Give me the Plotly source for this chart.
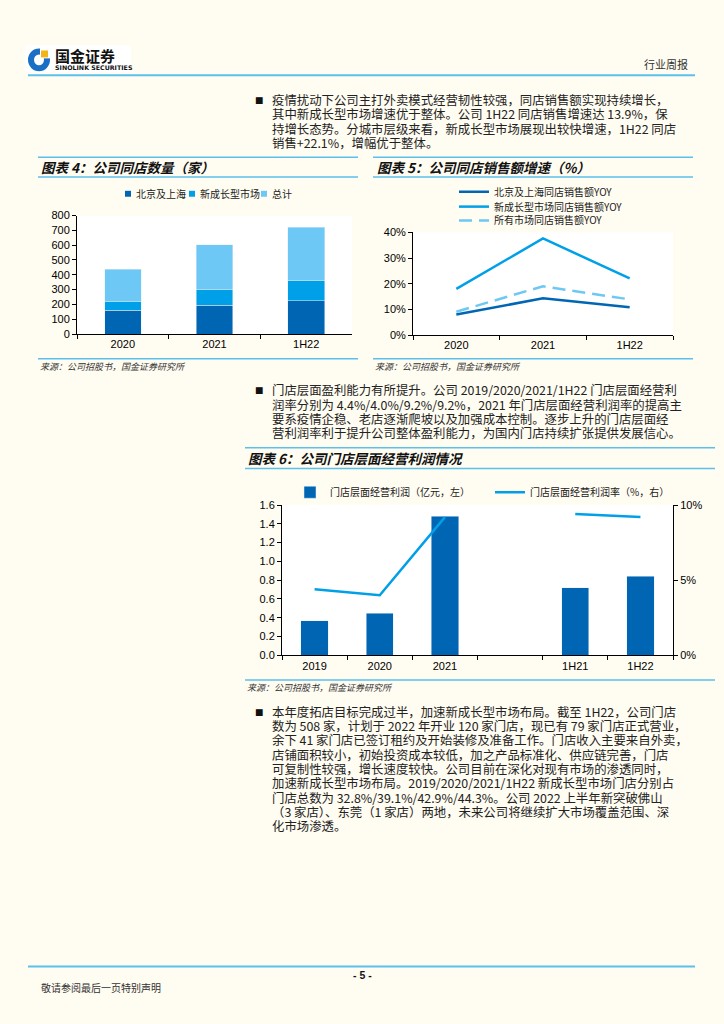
import plotly.graph_objects as go

W, H = 724, 1024
def px(x): return x / W
def py(y): return 1 - y / H

# ---------------- data ----------------
# Chart 4: 公司同店数量（家）
c4_cats = ["2020", "2021", "1H22"]
c4_bjsh = [160, 195, 225]
c4_new = [58, 107, 135]
c4_total = [218, 302, 360]
c4_names = ["北京及上海", "新成长型市场", "总计"]

# Chart 5: 公司同店销售额增速（%）
c5_cats = ["2020", "2021", "1H22"]
c5_bjsh = [8.0, 14.3, 10.8]
c5_new = [18.0, 37.6, 22.1]
c5_all = [9.1, 19.0, 13.9]
c5_names = ["北京及上海同店销售额YOY", "新成长型市场同店销售额YOY", "所有市场同店销售额YOY"]

# Chart 6: 公司门店层面经营利润情况
c6_cats = ["2019", "2020", "2021", " ", "1H21", "1H22"]
c6_profit = [0.37, 0.45, 1.48, None, 0.72, 0.84]
c6_margin = [4.4, 4.0, 9.2, None, 9.4, 9.2]
c6_names = ["门店层面经营利润（亿元，左）", "门店层面经营利润率（%，右）"]

DARK = "#0066B3"
MID = "#00A0E9"
LIGHT = "#6DC8F5"
RULE = "#5BC0EB"
BG = "#FFFCF1"
CJK = "Noto Sans CJK SC"
LAT = "Liberation Sans"
c4_colors = [DARK, MID, LIGHT]

fig = go.Figure()

# Chart 4 stacked bars
for vals, col, nm in zip([c4_bjsh, c4_new, c4_total], c4_colors, c4_names):
    fig.add_trace(go.Bar(x=c4_cats, y=vals, name=nm, marker_color=col, width=0.4,
                         xaxis="x", yaxis="y", showlegend=False))

# Chart 5 lines
for vals, col, nm, lg, dash in zip([c5_bjsh, c5_new, c5_all], [DARK, MID, LIGHT], c5_names,
                                   ["legend4", "legend5", "legend6"],
                                   ["solid", "solid", "13px,7px"]):
    fig.add_trace(go.Scatter(x=c5_cats, y=vals, name=nm, mode="lines",
                             line=dict(color=col, width=2.5, dash=dash),
                             xaxis="x2", yaxis="y2", legend=lg))

# Chart 6 bars + line
fig.add_trace(go.Bar(x=c6_cats, y=c6_profit, name=c6_names[0], marker_color=DARK, width=0.42,
                     xaxis="x3", yaxis="y3", legend="legend7"))
fig.add_trace(go.Scatter(x=c6_cats, y=c6_margin, name=c6_names[1], mode="lines",
                         line=dict(color=MID, width=2.5), connectgaps=False,
                         xaxis="x3", yaxis="y4", legend="legend8"))

tick_font = dict(family=LAT, size=11, color="#000")
axis_common = dict(showline=True, linecolor="#000", linewidth=1, ticks="outside", ticklen=4,
                   tickcolor="#000", showgrid=False, zeroline=False, tickfont=tick_font)

def leg(x, y, size=10, xanchor="left"):
    return dict(x=px(x), y=py(y), xanchor=xanchor, yanchor="middle", bgcolor="rgba(0,0,0,0)",
                font=dict(family=CJK, size=size, color="#222"), itemwidth=30,
                orientation="h", borderwidth=0)

fig.update_layout(
    width=W, height=H, margin=dict(l=0, r=0, t=0, b=0),
    paper_bgcolor=BG, plot_bgcolor="#FFFFFF", barmode="stack",
    xaxis=dict(domain=[px(77), px(352)], anchor="y", tickson="boundaries", **axis_common),
    yaxis=dict(domain=[py(332), py(212)], anchor="x", range=[0, 800], dtick=100, **axis_common),
    xaxis2=dict(domain=[px(413), px(673)], anchor="y2", tickson="boundaries",
                range=[-0.5, 2.5], **axis_common),
    yaxis2=dict(domain=[py(333), py(229)], anchor="x2", range=[0, 40], dtick=10, ticksuffix="%",
                **axis_common),
    xaxis3=dict(domain=[px(282), px(673)], anchor="y3", tickson="boundaries",
                range=[-0.5, 5.5], **axis_common),
    yaxis3=dict(domain=[py(657), py(505)], anchor="x3", range=[0, 1.6], dtick=0.2,
                tickformat=".1f", **axis_common),
    yaxis4=dict(overlaying="y3", side="right", anchor="x3", range=[0, 10], dtick=5,
                ticksuffix="%", **axis_common),
    legend4=leg(454, 188), legend5=leg(454, 203), legend6=leg(454, 217),
    legend7=leg(290, 492), legend8=leg(490, 492),
)

shapes = []
ann = []
def hline(x0, x1, y, width=1.5, color=RULE):
    shapes.append(dict(type="line", xref="paper", yref="paper", x0=px(x0), x1=px(x1),
                       y0=py(y), y1=py(y), line=dict(color=color, width=width)))

def text(x, y, s, size=12.4, color="#222", family=CJK, anchor="left"):
    ann.append(dict(x=px(x), y=py(y), xref="paper", yref="paper", text=s, showarrow=False,
                    xanchor=anchor, yanchor="middle", font=dict(family=family, size=size, color=color)))

# Chart 4 legend (swatch + label, compact like the reference)
for cx, tx, col, nm in zip([128, 192, 264], [134, 198, 270], c4_colors, c4_names):
    shapes.append(dict(type="rect", xref="paper", yref="paper", x0=px(cx - 3), x1=px(cx + 3),
                       y0=py(193), y1=py(187), fillcolor=col, line=dict(width=0)))
    text(tx, 190, nm, size=10, color="#222")

# header logo block
shapes.append(dict(type="rect", xref="paper", yref="paper", x0=px(25), x1=px(131), y0=py(67), y1=py(40),
                   fillcolor="#FFFFFF", line=dict(width=0), layer="below"))
shapes.append(dict(type="circle", xref="paper", yref="paper", x0=px(28), x1=px(50), y0=py(66), y1=py(43),
                   fillcolor="#1A6FC4", line=dict(width=0)))
shapes.append(dict(type="circle", xref="paper", yref="paper", x0=px(34), x1=px(44), y0=py(60), y1=py(49),
                   fillcolor="#FFFFFF", line=dict(width=0)))
shapes.append(dict(type="rect", xref="paper", yref="paper", x0=px(40), x1=px(51), y0=py(53), y1=py(42),
                   fillcolor="#FFFFFF", line=dict(width=0)))
shapes.append(dict(type="rect", xref="paper", yref="paper", x0=px(41), x1=px(48), y0=py(52), y1=py(45),
                   fillcolor="#F3B417", line=dict(width=0)))
hline(28, 695, 70, width=2)
# chart 4 rules
hline(38, 358, 153); hline(38, 358, 173); hline(38, 358, 357)
# chart 5 rules
hline(373, 693, 153); hline(373, 693, 173); hline(373, 693, 357)
# chart 6 rules
hline(245, 715, 447); hline(245, 715, 468); hline(245, 715, 682)
# footer
hline(28, 695, 972, width=2)

text(53, 50.5, "<b>国金证券</b>", size=15, color="#111")
text(53, 62.5, "<b>SINOLINK SECURITIES</b>", size=6.3, color="#111", family="DejaVu Sans")
text(690, 59, "行业周报", size=11, color="#333", anchor="right")

def para(y0, lines, step=14.5):
    text(253, y0, "■", size=8.5, color="#111")
    for i, s in enumerate(lines):
        text(270, y0 + i * step, s)

para(95, [
    "疫情扰动下公司主打外卖模式经营韧性较强，同店销售额实现持续增长，",
    "其中新成长型市场增速优于整体。公司 1H22 同店销售增速达 13.9%，保",
    "持增长态势。分城市层级来看，新成长型市场展现出较快增速，1H22 同店",
    "销售+22.1%，增幅优于整体。",
])
para(389, [
    "门店层面盈利能力有所提升。公司 2019/2020/2021/1H22 门店层面经营利",
    "润率分别为 4.4%/4.0%/9.2%/9.2%，2021 年门店层面经营利润率的提高主",
    "要系疫情企稳、老店逐渐爬坡以及加强成本控制。逐步上升的门店层面经",
    "营利润率利于提升公司整体盈利能力，为国内门店持续扩张提供发展信心。",
])
para(714, [
    "本年度拓店目标完成过半，加速新成长型市场布局。截至 1H22，公司门店",
    "数为 508 家，计划于 2022 年开业 120 家门店，现已有 79 家门店正式营业，",
    "余下 41 家门店已签订租约及开始装修及准备工作。门店收入主要来自外卖，",
    "店铺面积较小，初始投资成本较低，加之产品标准化、供应链完善，门店",
    "可复制性较强，增长速度较快。公司目前在深化对现有市场的渗透同时，",
    "加速新成长型市场布局。2019/2020/2021/1H22 新成长型市场门店分别占",
    "门店总数为 32.8%/39.1%/42.9%/44.3%。公司 2022 上半年新突破佛山",
    "（3 家店）、东莞（1 家店）两地，未来公司将继续扩大市场覆盖范围、深",
    "化市场渗透。",
])

text(39, 163, "<b><i>图表 4：公司同店数量（家）</i></b>", size=13.5, color="#111")
text(375, 163, "<b><i>图表 5：公司同店销售额增速（%）</i></b>", size=13.5, color="#111")
text(246, 457, "<b><i>图表 6：公司门店层面经营利润情况</i></b>", size=13.5, color="#111")
src = "<i>来源：公司招股书，国金证券研究所</i>"
text(38, 365, src, size=9, color="#333")
text(373, 365, src, size=9, color="#333")
text(245, 690, src, size=9, color="#333")

text(362, 980, "<b>- 5 -</b>", size=10.5, color="#111", family=LAT, anchor="center")
text(39, 993, "敬请参阅最后一页特别声明", size=10, color="#333")

fig.update_layout(shapes=shapes, annotations=ann)
fig.write_html("out.html", config={"displayModeBar": False},
               post_script="document.body.style.margin='0';"
                           "document.documentElement.style.overflow='hidden';")
